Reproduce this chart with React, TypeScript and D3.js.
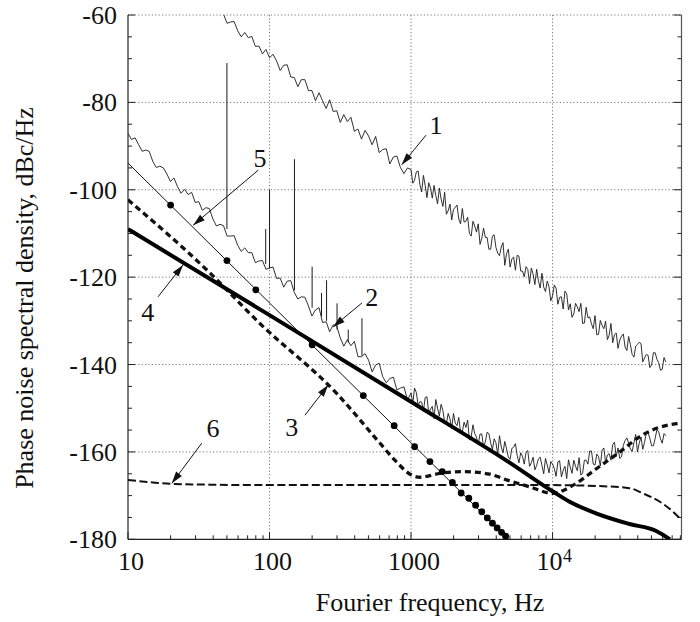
import React from "react";
import * as d3 from "d3";

const W = 700;
const H = 622;
const FONT = "Liberation Serif, Tinos, Times New Roman, DejaVu Serif, serif";

// Axis definitions
const X_DOMAIN: [number, number] = [10, 81500];
const Y_DOMAIN: [number, number] = [-180, -60];
const Y_MAJOR = [-180, -160, -140, -120, -100, -80, -60];
const X_MAJOR = [10, 100, 1000, 10000];
const X_LABELS = ["10", "100", "1000", "10^4"];

// Sampling grid of the measured spectra (40 points per decade, plus mid points)
const MANT = [1.0, 1.059, 1.122, 1.189, 1.259, 1.334, 1.413, 1.496, 1.585, 1.679, 1.778, 1.884, 1.995, 2.113, 2.239, 2.371, 2.512, 2.661, 2.818, 2.985, 3.162, 3.35, 3.548, 3.758, 3.981, 4.217, 4.467, 4.732, 5.012, 5.309, 5.623, 5.957, 6.31, 6.683, 7.079, 7.499, 7.943, 8.414, 8.913, 9.441];
const MANT_MID = [1.029, 1.09, 1.155, 1.223, 1.296, 1.372, 1.454, 1.54, 1.631, 1.728, 1.83, 1.939, 2.054, 2.175, 2.304, 2.441, 2.585, 2.738, 2.901, 3.073, 3.255, 3.447, 3.652, 3.868, 4.097, 4.34, 4.597, 4.87, 5.158, 5.464, 5.788, 6.131, 6.494, 6.879, 7.286, 7.718, 8.175, 8.66, 9.173, 9.716];

// Curve 1 (measured)
const C1_D1 = [-59.8, -59.8, -61.9, -61.6, -61.5, -63.6, -65.0, -64.0, -65.2, -64.9, -67.2, -67.1, -68.9, -67.9];
const C1_D2 = [-69.8, -69.0, -70.5, -72.7, -71.5, -71.4, -74.2, -74.3, -76.4, -74.8, -74.8, -77.3, -77.3, -79.6, -77.8, -79.6, -81.4, -79.4, -82.1, -81.9, -84.6, -82.8, -84.4, -83.4, -86.6, -86.1, -88.4, -86.4, -87.7, -89.7, -87.8, -91.5, -90.8, -90.6, -94.1, -92.5, -92.3, -94.9, -96.3, -95.0];
const C1_D3 = [-95.4, -97.8, -95.7, -100.5, -99.0, -98.4, -101.9, -101.3, -99.6, -103.8, -105.6, -103.3, -104.5, -103.5, -107.8, -107.4, -106.3, -110.6, -108.3, -107.8, -111.1, -110.9, -113.6, -110.6, -113.2, -115.1, -112.1, -114.6, -117.7, -115.4, -115.0, -118.6, -119.9, -118.2, -117.9, -121.7, -120.8, -119.1, -123.3, -122.2];
const C1_D3_MID = [-98.5, -95.9, -98.8, -96.7, -101.8, -99.6, -99.0, -103.2, -102.1, -100.6, -104.8, -106.9, -104.0, -106.7, -104.3, -107.2, -110.0, -107.2, -109.7, -112.5, -108.8, -110.9, -113.6, -110.3, -114.5, -113.1, -117.3, -113.6, -115.8, -118.4, -115.2, -118.6, -117.6, -121.5, -119.3, -118.2, -122.5, -122.3, -120.9, -125.4];
const C1_D4 = [-124.3, -122.5, -124.6, -127.3, -123.8, -126.1, -128.4, -126.8, -126.0, -130.5, -129.3, -130.7, -128.8, -133.1, -131.1, -130.1, -133.3, -135.0, -132.8, -134.4, -133.0, -136.8, -135.4, -138.3, -135.4, -135.2, -138.5, -137.9, -140.1, -137.3, -139.6, -141.1, -139.4];
const C1_D4_MID = [-121.8, -126.2, -124.5, -123.2, -127.5, -129.2, -126.0, -127.9, -130.6, -126.9, -129.1, -131.8, -133.2, -129.9, -131.8, -134.3, -130.6, -133.2, -136.3, -133.5, -136.0, -133.6, -137.7, -135.8, -134.9, -139.4, -137.7, -140.7, -137.3, -138.8, -141.3, -138.4];

// Curve 2 (measured)
const C2_D1 = [-87.1, -88.5, -88.1, -89.7, -91.2, -90.9, -91.2, -93.5, -94.9, -94.6, -95.0, -96.4, -98.1, -97.3, -99.3, -100.8, -99.9, -101.1, -100.6, -102.9, -102.7, -104.7, -104.1, -104.3, -106.7, -108.3, -107.9, -108.2, -110.6, -110.6, -110.5, -112.7, -114.1, -113.3, -114.4, -114.4, -116.7, -116.3, -116.2, -118.2];
const C2_D2 = [-117.9, -117.7, -120.3, -120.2, -122.3, -120.9, -120.8, -123.5, -125.0, -124.5, -124.6, -126.6, -128.9, -127.5, -127.0, -130.4, -130.2, -132.5, -130.9, -131.2, -133.9, -135.8, -134.3, -135.7, -134.7, -138.2, -138.2, -137.5, -139.0, -141.7, -140.1, -139.7, -142.8, -144.2, -143.2, -142.9, -145.8, -145.4, -145.1, -148.1];
const C2_D3 = [-146.5, -145.4, -149.3, -148.6, -147.5, -151.2, -149.6, -148.0, -151.8, -150.5, -153.5, -152.4, -151.2, -154.0, -155.6, -153.2, -152.7, -156.5, -155.8, -158.3, -155.9, -157.7, -155.8, -159.5, -157.9, -156.3, -160.2, -159.3, -161.7, -158.9, -160.8, -160.2, -162.8, -159.7, -162.5, -164.1, -161.6, -163.1, -161.5, -164.8];
const C2_D3_MID = [-148.8, -146.4, -148.5, -150.7, -147.4, -150.2, -152.4, -150.0, -149.1, -153.2, -151.2, -154.6, -153.4, -152.1, -155.4, -154.4, -157.3, -153.8, -156.6, -155.9, -158.9, -155.5, -157.9, -157.0, -160.6, -158.9, -157.6, -161.2, -159.2, -158.1, -162.5, -161.0, -160.1, -163.3, -161.2, -163.1, -161.2, -165.0, -163.0, -162.2];
const C2_D4 = [-162.8, -165.6, -162.0, -164.2, -166.1, -163.5, -161.9, -164.3, -165.3, -161.9, -162.8, -159.8, -163.0, -161.1, -159.6, -162.5, -160.4, -158.3, -161.0, -161.5, -158.5, -156.8, -159.3, -157.9, -160.0, -156.6, -157.8, -155.5, -158.6, -156.9, -155.4, -158.0, -156.3];
const C2_D4_MID = [-163.8, -162.3, -165.7, -163.3, -161.8, -164.9, -163.3, -161.3, -164.8, -161.9, -159.8, -162.8, -160.5, -163.2, -159.1, -160.7, -161.9, -157.8, -159.1, -161.1, -157.4, -158.0, -159.9, -156.0, -158.0, -159.4, -155.7, -156.9, -158.6, -154.9, -157.0, -155.8];

// Spurs on curve 2: [frequency, base dB, peak dB]
const C2_SPURS: [number, number, number][] = [
  [50, -109, -71], [94, -117, -109], [100, -118, -100], [150, -123, -93],
  [200, -127, -117.6], [233, -129, -123.6], [253, -130, -120.7], [300, -132, -126],
  [360, -135, -132], [450, -138, -129.4],
];

// Curve 3 (thick dashed)
const C3: [number, number][] = [
  [10, -102.3], [36.7, -118.6], [85.5, -130.6], [298, -146.6], [603, -158], [769, -161.9],
  [1009, -165.3], [1156, -165.8], [1600, -164.9], [2340, -164.5], [3600, -165.1], [4730, -166.4],
  [6920, -168], [10000, -169.5], [14000, -167.6], [20500, -163.8], [29900, -160], [41400, -156.5],
  [54200, -154.6], [75200, -153.5], [81500, -153.3],
];

// Curve 4 (thick solid)
const C4: [number, number][] = [
  [10, -109], [100, -128.7], [1000, -148.5], [5000, -162.5], [10000, -169], [13200, -171.4],
  [20500, -174.1], [35000, -176.5], [54000, -178.1], [67500, -180],
];

// Curve 5 (thin line with dots)
const C5: [number, number][] = [[10, -93.9], [4900, -180]];
const C5_DOTS: [number, number][] = [
  [20, -103.5], [50, -116.2], [80, -122.9], [200, -135.5], [460, -147.1], [760, -154.0],
  [1060, -158.8], [1360, -162.2], [1660, -164.5], [1960, -167.0], [2260, -169.4], [2560, -170.6],
  [2860, -172.2], [3160, -173.7], [3460, -175.1], [3760, -176.3], [4060, -177.4], [4360, -178.4],
  [4660, -179.3],
];

// Curve 6 (thin dashed)
const C6: [number, number][] = [
  [10, -166.4], [15, -167.0], [20, -167.3], [40, -167.5], [100, -167.6], [1000, -167.6],
  [5000, -167.6], [10000, -167.6], [20500, -167.8], [35000, -168.3], [43600, -169.5],
  [57300, -171.4], [71100, -173.7], [81500, -175.6],
];

// Annotations: [label, label f, label dB, tail f, tail dB, head f, head dB]
const NOTES: [string, number, number, number, number, number, number][] = [
  ["1", 1500, -85.2, 1276, -87.5, 859, -94.3],
  ["2", 527, -124.5, 450, -125.9, 281, -131.4],
  ["3", 143.5, -154.2, 178, -151.6, 260, -144.7],
  ["4", 13.8, -127.9, 16.3, -124.5, 24.5, -117.2],
  ["5", 85.5, -92.7, 83.3, -95.5, 28.9, -108.1],
  ["6", 39.9, -154.5, 33.2, -158.0, 20.4, -167.2],
];

type Seg = { decade: number; start: number; values: number[]; grid: number[] };

function buildTrace(segs: Seg[]): [number, number][] {
  const pts: [number, number][] = [];
  segs.forEach((s) => {
    s.values.forEach((v, i) => {
      pts.push([s.grid[s.start + i] * s.decade, v]);
    });
  });
  return pts.sort((a, b) => a[0] - b[0]);
}

const TRACE1 = buildTrace([
  { decade: 10, start: 26, values: C1_D1, grid: MANT },
  { decade: 100, start: 0, values: C1_D2, grid: MANT },
  { decade: 1000, start: 0, values: C1_D3, grid: MANT },
  { decade: 1000, start: 0, values: C1_D3_MID, grid: MANT_MID },
  { decade: 10000, start: 0, values: C1_D4, grid: MANT },
  { decade: 10000, start: 0, values: C1_D4_MID, grid: MANT_MID },
]);
const TRACE2 = buildTrace([
  { decade: 10, start: 0, values: C2_D1, grid: MANT },
  { decade: 100, start: 0, values: C2_D2, grid: MANT },
  { decade: 1000, start: 0, values: C2_D3, grid: MANT },
  { decade: 1000, start: 0, values: C2_D3_MID, grid: MANT_MID },
  { decade: 10000, start: 0, values: C2_D4, grid: MANT },
  { decade: 10000, start: 0, values: C2_D4_MID, grid: MANT_MID },
]);

export default function App() {
  const L = 128, R = 681.5, T = 15, B = 539.3;
  const x = d3.scaleLog().domain(X_DOMAIN).range([L, R]);
  const y = d3.scaleLinear().domain(Y_DOMAIN).range([B, T]);

  const line = d3.line<[number, number]>().x((d) => x(d[0])).y((d) => y(d[1]));
  const smooth = d3.line<[number, number]>().x((d) => x(d[0])).y((d) => y(d[1])).curve(d3.curveMonotoneX);

  const yMinor = d3.range(Y_DOMAIN[0], Y_DOMAIN[1] + 0.1, 5).filter((v) => Y_MAJOR.indexOf(v) < 0);
  const xMinor = x.ticks().filter((v) => X_MAJOR.indexOf(v) < 0 && v < X_DOMAIN[1]);

  const grid = "#777";

  const arrowHead = (x1: number, y1: number, x2: number, y2: number) => {
    const ang = Math.atan2(y2 - y1, x2 - x1);
    const len = 12, hw = 3.6;
    const bx = x2 - len * Math.cos(ang), by = y2 - len * Math.sin(ang);
    const px = -Math.sin(ang) * hw, py = Math.cos(ang) * hw;
    return `M${x2},${y2}L${bx + px},${by + py}L${bx - px},${by - py}Z`;
  };

  return (
    <svg width={W} height={H} style={{ position: "absolute", left: 0, top: 0, background: "#fff", fontFamily: FONT }}>
      <defs>
        <clipPath id="plot">
          <rect x={L} y={T} width={R - L} height={B - T} />
        </clipPath>
      </defs>
      <rect x={0} y={0} width={W} height={H} fill="#fff" />

      {/* grid */}
      <g stroke={grid} strokeWidth={1} strokeDasharray="1.2 2.2" fill="none">
        {X_MAJOR.slice(1).map((v) => (
          <line key={"gx" + v} x1={x(v)} x2={x(v)} y1={T} y2={B} />
        ))}
        {Y_MAJOR.slice(1).map((v) => (
          <line key={"gy" + v} x1={L} x2={R} y1={y(v)} y2={y(v)} />
        ))}
      </g>

      {/* frame */}
      <g stroke="#222" strokeWidth={1.2} fill="none">
        <line x1={L} x2={L} y1={T} y2={B} />
        <line x1={L} x2={R} y1={B} y2={B} />
        <line x1={R} x2={R} y1={T} y2={B} stroke="#555" />
      </g>
      {/* ticks */}
      <g stroke="#222" strokeWidth={1}>
        {Y_MAJOR.map((v) => (
          <g key={"ym" + v}>
            <line x1={L} x2={L + 7} y1={y(v)} y2={y(v)} />
            <line x1={R} x2={R - 8} y1={y(v)} y2={y(v)} />
          </g>
        ))}
        {yMinor.map((v) => (
          <g key={"yn" + v}>
            <line x1={L} x2={L + 4} y1={y(v)} y2={y(v)} />
            <line x1={R} x2={R - 4} y1={y(v)} y2={y(v)} />
          </g>
        ))}
        {xMinor.map((v) => (
          <line key={"xn" + v} x1={x(v)} x2={x(v)} y1={B} y2={B - 4} />
        ))}
        {X_MAJOR.map((v) => (
          <line key={"xm" + v} x1={x(v)} x2={x(v)} y1={B} y2={B - 7} />
        ))}
      </g>

      {/* tick labels */}
      <g fontSize={26} fill="#111" style={{ fontFamily: FONT }}>
        {Y_MAJOR.map((v) => (
          <text key={"yl" + v} x={117} y={y(v) + 9} textAnchor="end">
            {String(v)}
          </text>
        ))}
        {X_MAJOR.map((v, i) =>
          X_LABELS[i] === "10^4" ? (
            <g key={"xl" + v}>
              <text x={x(v) + 10} y={569.5} textAnchor="end">10</text>
              <text x={x(v) + 10.5} y={561.5} fontSize={18}>4</text>
            </g>
          ) : (
            <text key={"xl" + v} x={x(v) + 3} y={569.5} textAnchor="middle">
              {X_LABELS[i]}
            </text>
          )
        )}
      </g>

      {/* axis titles */}
      <text x={430} y={611} fontSize={26} textAnchor="middle" fill="#111" style={{ fontFamily: FONT }}>
        Fourier frequency, Hz
      </text>
      <text transform="translate(33,298) rotate(-90)" fontSize={26} textAnchor="middle" fill="#111" style={{ fontFamily: FONT }}>
        Phase noise spectral density, dBc/Hz
      </text>

      {/* data */}
      <g clipPath="url(#plot)" fill="none">
        <path d={line(TRACE1) || ""} stroke="#1a1a1a" strokeWidth={0.9} />
        <path d={line(TRACE2) || ""} stroke="#1a1a1a" strokeWidth={0.9} />
        {C2_SPURS.map((s, i) => (
          <line key={"sp" + i} x1={x(s[0])} x2={x(s[0])} y1={y(s[1])} y2={y(s[2])} stroke="#1a1a1a" strokeWidth={1} />
        ))}
        <path d={smooth(C6) || ""} stroke="#111" strokeWidth={2} strokeDasharray="8 3.5" />
        <path d={smooth(C3) || ""} stroke="#111" strokeWidth={3.3} strokeDasharray="6 4" />
        <path d={smooth(C4) || ""} stroke="#000" strokeWidth={4} />
        <path d={line(C5) || ""} stroke="#111" strokeWidth={1} />
        {C5_DOTS.map((d, i) => (
          <circle key={"d" + i} cx={x(d[0])} cy={y(d[1])} r={3.4} fill="#000" />
        ))}
      </g>

      {/* annotations */}
      <g fill="#111" style={{ fontFamily: FONT }}>
        {NOTES.map((n) => {
          const x1 = x(n[3]), y1 = y(n[4]), x2 = x(n[5]), y2 = y(n[6]);
          return (
            <g key={"n" + n[0]}>
              <text x={x(n[1])} y={y(n[2])} dy="0.35em" fontSize={26} textAnchor="middle">
                {n[0]}
              </text>
              <line x1={x1} y1={y1} x2={x2} y2={y2} stroke="#111" strokeWidth={1} />
              <path d={arrowHead(x1, y1, x2, y2)} />
            </g>
          );
        })}
      </g>
    </svg>
  );
}
